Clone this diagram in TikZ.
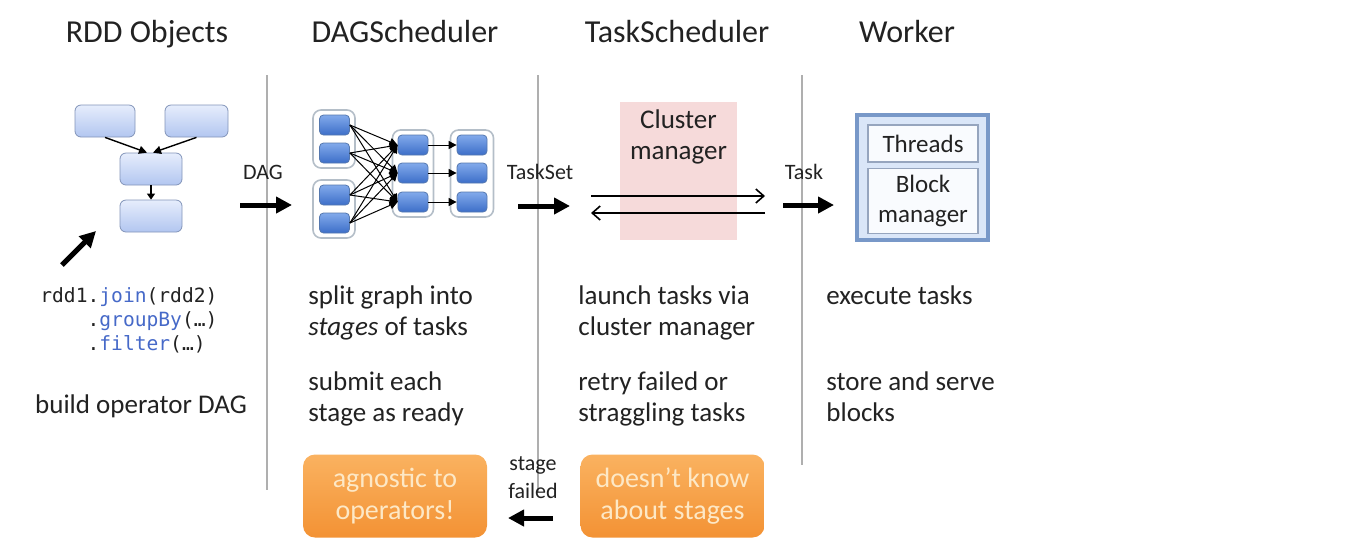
\documentclass[tikz,border=0pt]{standalone}
\usepackage{fontspec}
\setmainfont{Carlito}
\newfontfamily\codefont{DejaVu Sans Mono}
\usetikzlibrary{arrows.meta}
\definecolor{txt}{RGB}{34,34,34}
\definecolor{sepline}{RGB}{175,175,175}
\definecolor{rddtop}{RGB}{230,237,252}
\definecolor{rddbot}{RGB}{178,198,240}
\definecolor{rddedge}{RGB}{130,148,185}
\definecolor{tasktop}{RGB}{130,170,235}
\definecolor{taskbot}{RGB}{60,110,200}
\definecolor{taskedge}{RGB}{85,120,175}
\definecolor{stageedge}{RGB}{180,190,200}
\definecolor{cmfill}{RGB}{246,218,218}
\definecolor{workfill}{RGB}{218,230,248}
\definecolor{workedge}{RGB}{120,152,200}
\definecolor{boxedge}{RGB}{150,165,190}
\definecolor{orangetop}{RGB}{250,178,96}
\definecolor{orangebot}{RGB}{243,146,52}
\definecolor{orangetxt}{RGB}{253,232,198}
\definecolor{codeblue}{RGB}{70,105,200}

\begin{document}
\begin{tikzpicture}[x=0.5pt,y=-0.5pt,
  title/.style={font=\fontsize{16}{19}\selectfont, text=txt, inner sep=0, anchor=base},
  label/.style={font=\fontsize{11}{14}\selectfont, text=txt, inner sep=0, anchor=base},
  body/.style={font=\fontsize{13.5}{15.5}\selectfont, text=txt, align=left, anchor=north west, inner sep=0},
  rddbox/.style={draw=rddedge, rounded corners=3pt, top color=rddtop, bottom color=rddbot, minimum height=16pt},
  taskbox/.style={draw=taskedge, rounded corners=2pt, top color=tasktop, bottom color=taskbot, minimum width=15pt, minimum height=10pt},
  stagebox/.style={draw=stageedge, line width=0.8pt, fill=white, rounded corners=4pt},
  bigarrow/.style={line width=2.5pt, -{Triangle[length=8pt,width=8pt]}},
  thinarrow/.style={line width=0.8pt, -{Straight Barb[length=4pt,width=7pt]}},
  dagedge/.style={line width=0.5pt, -{Triangle[length=4pt,width=4pt]}},
  orangebox/.style={rounded corners=6pt, top color=orangetop, bottom color=orangebot, text=orangetxt, minimum width=92pt, minimum height=41.5pt, align=center, font=\fontsize{14}{16}\selectfont},
  innerbox/.style={draw=boxedge, line width=0.6pt, fill=white!85!workfill, minimum width=55pt, align=center, font=\fontsize{12.5}{15}\selectfont, text=txt}]
\useasboundingbox (0,0) rectangle (1352,553);

\node[title] (trdd) at (147,42) {RDD Objects};
\node[title] (tdag) at (405,42) {DAGScheduler};
\node[title] (ttask) at (677,42) {TaskScheduler};
\node[title] (twork) at (907,42) {Worker};

\draw[sepline, line width=0.8pt] (267,75) -- (267,490);
\draw[sepline, line width=0.8pt] (538,75) -- (538,492);
\draw[sepline, line width=0.8pt] (802,75) -- (802,465);

\node[rddbox, minimum width=30pt] (r1) at (105,121) {};
\node[rddbox, minimum width=31.5pt] (r2) at (196.5,121) {};
\node[rddbox, minimum width=31pt] (r3) at (151,169) {};
\node[rddbox, minimum width=31pt] (r4) at (151,216) {};
\draw[line width=0.7pt, -{Triangle[length=4pt,width=4pt]}] (r1.south) -- ([xshift=-2pt]r3.north);
\draw[line width=0.7pt, -{Triangle[length=4pt,width=4pt]}] (r2.south) -- ([xshift=1pt]r3.north);
\draw[line width=0.7pt, -{Triangle[length=3pt,width=4pt]}] (r3) -- (r4);
\coordinate (pbase) at (62,265);
\coordinate (ptip) at (96,231);
\draw[bigarrow] (pbase) -- (ptip);

\node[inner sep=0, anchor=north west, align=left, text=txt, font=\codefont\fontsize{9.8}{12}\selectfont] (code) at (40,287)
  {rdd1.\textcolor{codeblue}{join}(rdd2)\\
   \ \ \ \ .\textcolor{codeblue}{groupBy}(…)\\
   \ \ \ \ .\textcolor{codeblue}{filter}(…)};
\node[body, anchor=base] (build) at (141,413) {build operator DAG};

\node[label] (ldag) at (263,179) {DAG};
\coordinate (dagA) at (240,205);
\coordinate (dagB) at (292,205);
\draw[bigarrow] (dagA) -- (dagB);

\node[stagebox, minimum width=21pt, minimum height=29pt] (s1) at (334,139) {};
\node[stagebox, minimum width=21pt, minimum height=29pt] (s2) at (334,209) {};
\node[stagebox, minimum width=20.5pt, minimum height=43.5pt] (s3) at (413,173.5) {};
\node[stagebox, minimum width=21.5pt, minimum height=43.5pt] (s4) at (472,173.5) {};
\foreach \y [count=\i] in {125,153,195,223}
  \node[taskbox] (a\i) at (334.5,\y) {};
\foreach \y [count=\i] in {145,173,202} {
  \node[taskbox] (b\i) at (413,\y) {};
  \node[taskbox] (c\i) at (472,\y) {};
}
\foreach \i in {1,...,4}
  \foreach \j in {1,2,3}
    \draw[dagedge] (a\i.east) -- (b\j.west);
\foreach \j in {1,2,3}
  \draw[dagedge] (b\j) -- (c\j);

\node[body] (split) at (308,285) {split graph into\\\textit{stages} of tasks};
\node[body] (submit) at (308,371) {submit each\\stage as ready};

\node[label] (lset) at (540,179) {TaskSet};
\coordinate (setA) at (518,206);
\coordinate (setB) at (570,206);
\draw[bigarrow] (setA) -- (setB);

\node[fill=cmfill, minimum width=58.5pt, minimum height=69pt] (cm) at (678.5,171) {};
\node[inner sep=0, anchor=north, align=center, text=txt, font=\fontsize{13.5}{15.5}\selectfont] (cmtext) at (678.5,109) {Cluster\\manager};
\coordinate (cmL1) at (591,196);
\coordinate (cmR1) at (765,196);
\coordinate (cmL2) at (591,213);
\coordinate (cmR2) at (765,213);
\draw[thinarrow] (cmL1) -- (cmR1);
\draw[thinarrow] (cmR2) -- (cmL2);

\node[body] (launch) at (578,285) {launch tasks via\\cluster manager};
\node[body] (retry) at (578,371) {retry failed or\\straggling tasks};

\node[label] (ltask) at (804,179) {Task};
\coordinate (tkA) at (783,205);
\coordinate (tkB) at (834,205);
\draw[bigarrow] (tkA) -- (tkB);

\node[draw=workedge, line width=2pt, fill=workfill, minimum width=65.5pt, minimum height=62.5pt] (wbox) at (922.5,177.5) {};
\node[innerbox, minimum height=18.5pt] (threads) at (923,143.5) {Threads};
\node[innerbox, minimum height=31pt] (block) at (923,201) {Block\\manager};

\node[body] (exec) at (826,285) {execute tasks};
\node[body] (store) at (826,371) {store and serve\\blocks};

\node[orangebox] (agn) at (395,496) {agnostic to\\operators!};
\node[orangebox] (know) at (672.5,496) {doesn’t know\\about stages};
\node[label, anchor=center, align=center, font=\fontsize{11}{14}\selectfont] (sfail) at (533,478) {stage\\failed};
\coordinate (failA) at (553,518);
\coordinate (failB) at (508,518);
\draw[bigarrow] (failA) -- (failB);
\end{tikzpicture}
\end{document}
